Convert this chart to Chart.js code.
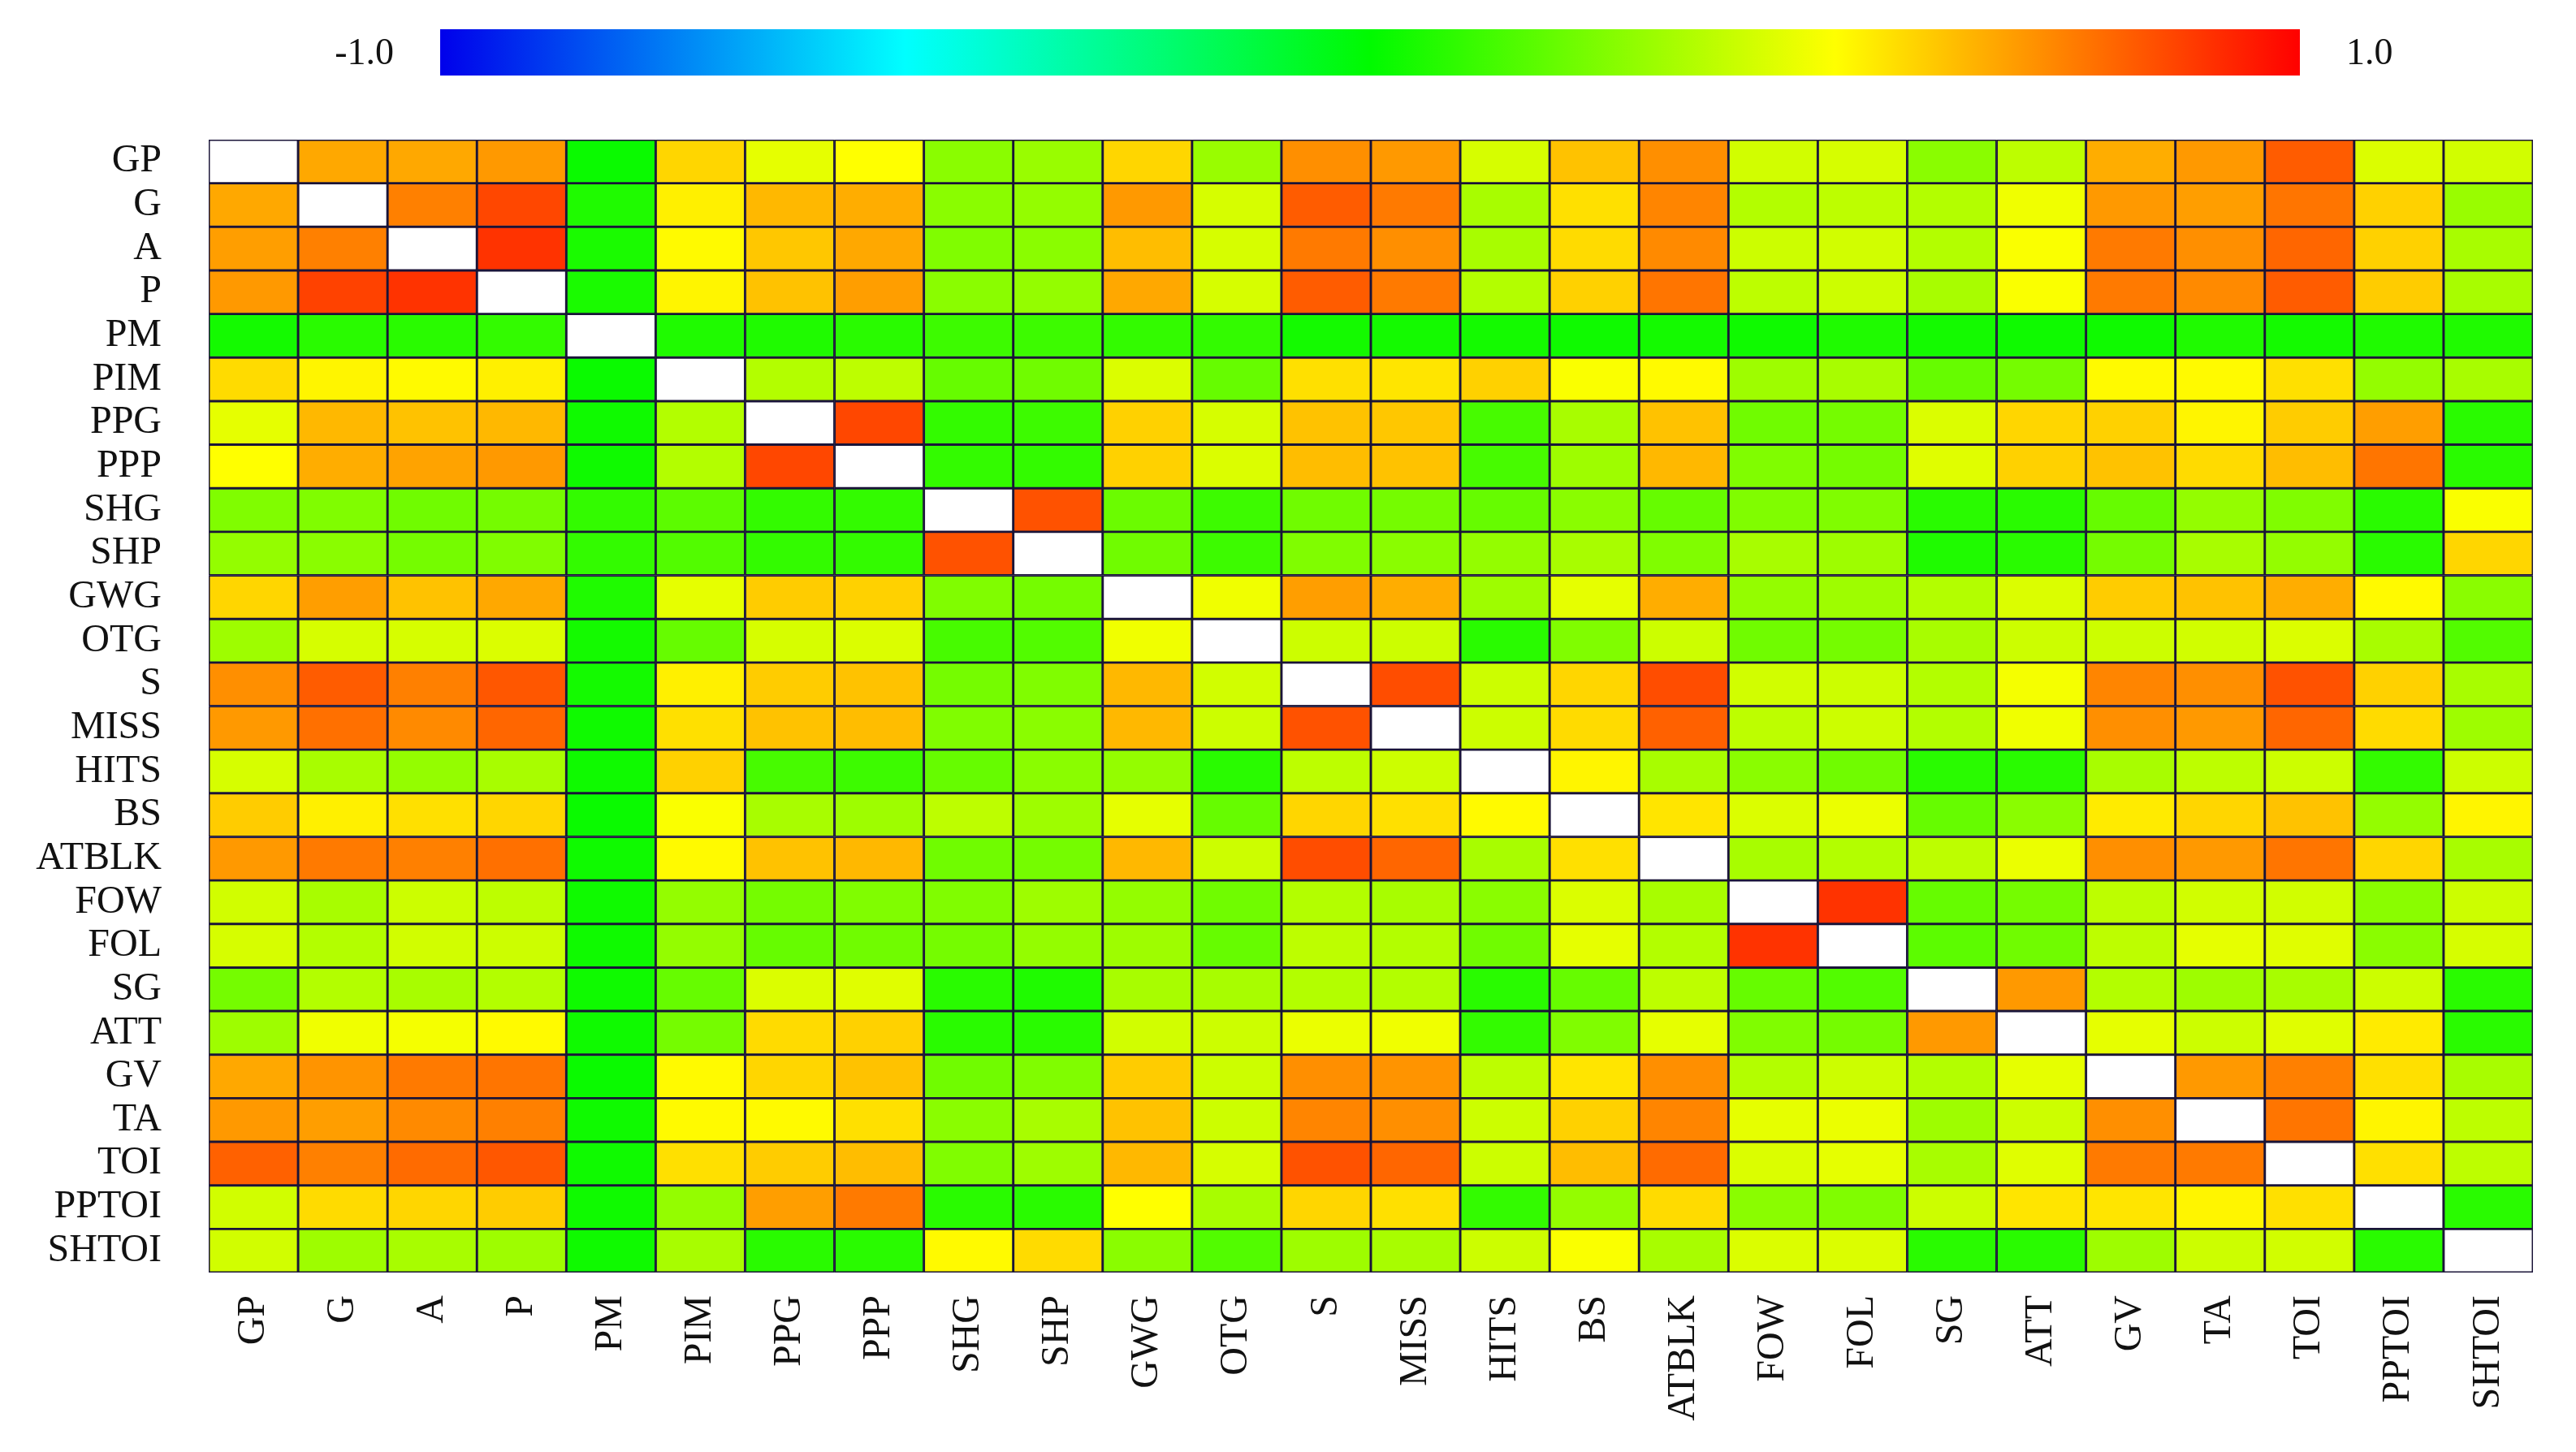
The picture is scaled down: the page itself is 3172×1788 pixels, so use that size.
<!DOCTYPE html>
<html>
<head>
<meta charset="utf-8">
<script src="https://cdn.jsdelivr.net/npm/chart.js@4.4.1/dist/chart.umd.min.js"></script>
<style>
  html, body { margin: 0; padding: 0; background: #fff; }
  #page { position: relative; width: 3172px; height: 1788px; font-family: 'Liberation Serif', 'Times New Roman', serif; }
  #mainWrap { position: absolute; left: 0; top: 0; width: 3172px; height: 1788px; }
  #barWrap { position: absolute; left: 542px; top: 36px; width: 2290px; height: 57px; }
  .cbLabel { position: absolute; top: 37px; font-size: 46px; color: #111; line-height: 54px; }
</style>
</head>
<body>
<div id="page">
  <div id="mainWrap"><canvas id="heatmap"></canvas></div>
  <div id="barWrap"><canvas id="colorbar"></canvas></div>
  <div class="cbLabel" style="right: 2687px;">-1.0</div>
  <div class="cbLabel" style="left: 2889px;">1.0</div>
</div>
<script>
const labels = ['GP', 'G', 'A', 'P', 'PM', 'PIM', 'PPG', 'PPP', 'SHG', 'SHP', 'GWG', 'OTG', 'S', 'MISS',
    'HITS', 'BS', 'ATBLK', 'FOW', 'FOL', 'SG', 'ATT', 'GV', 'TA', 'TOI', 'PPTOI', 'SHTOI'];

// correlation rows, same order as labels (null = diagonal, drawn white)
const corrRows = [
    [null,0.67,0.67,0.70,0.02,0.58,0.45,0.50,0.27,0.30,0.58,0.30,0.72,0.70,0.42,0.62,0.72,0.41,0.42,0.27,0.37,0.66,0.70,0.82,0.43,0.41],
    [0.67,null,0.75,0.86,0.06,0.53,0.64,0.66,0.27,0.29,0.70,0.42,0.82,0.76,0.33,0.56,0.74,0.35,0.37,0.35,0.47,0.70,0.69,0.77,0.59,0.30],
    [0.69,0.75,null,0.90,0.05,0.51,0.61,0.67,0.25,0.27,0.63,0.42,0.76,0.72,0.33,0.57,0.73,0.40,0.41,0.35,0.49,0.76,0.72,0.80,0.59,0.33],
    [0.70,0.87,0.90,null,0.05,0.52,0.62,0.69,0.27,0.29,0.67,0.42,0.82,0.76,0.35,0.59,0.77,0.37,0.40,0.33,0.49,0.76,0.73,0.82,0.60,0.33],
    [0.04,0.08,0.08,0.10,null,0.06,0.06,0.08,0.12,0.12,0.10,0.10,0.04,0.04,0.04,0.03,0.04,0.03,0.06,0.04,0.03,0.03,0.06,0.04,0.06,0.06],
    [0.57,0.52,0.51,0.53,0.02,null,0.35,0.37,0.20,0.22,0.43,0.20,0.56,0.55,0.59,0.49,0.51,0.31,0.33,0.20,0.23,0.51,0.51,0.56,0.29,0.33],
    [0.45,0.64,0.62,0.64,0.03,0.35,null,0.86,0.10,0.12,0.59,0.42,0.62,0.61,0.14,0.33,0.62,0.22,0.23,0.43,0.58,0.59,0.52,0.60,0.69,0.08],
    [0.50,0.66,0.68,0.70,0.03,0.35,0.86,null,0.10,0.10,0.59,0.43,0.63,0.62,0.14,0.31,0.64,0.25,0.23,0.44,0.59,0.62,0.57,0.63,0.77,0.08],
    [0.25,0.25,0.22,0.23,0.10,0.18,0.10,0.10,null,0.84,0.21,0.12,0.22,0.23,0.20,0.27,0.20,0.25,0.25,0.08,0.08,0.20,0.29,0.25,0.08,0.49],
    [0.29,0.27,0.23,0.25,0.10,0.16,0.10,0.10,0.84,null,0.22,0.12,0.25,0.27,0.29,0.33,0.25,0.33,0.31,0.06,0.08,0.23,0.33,0.29,0.08,0.58],
    [0.58,0.69,0.62,0.67,0.06,0.45,0.60,0.59,0.25,0.23,null,0.47,0.69,0.66,0.31,0.45,0.66,0.29,0.31,0.35,0.43,0.60,0.62,0.66,0.51,0.27],
    [0.31,0.42,0.42,0.43,0.04,0.20,0.42,0.43,0.14,0.16,0.47,null,0.40,0.40,0.08,0.25,0.40,0.22,0.23,0.33,0.40,0.40,0.41,0.43,0.33,0.16],
    [0.72,0.82,0.75,0.83,0.04,0.53,0.60,0.62,0.23,0.25,0.64,0.41,null,0.85,0.40,0.58,0.85,0.41,0.40,0.35,0.48,0.74,0.72,0.84,0.59,0.33],
    [0.70,0.78,0.73,0.80,0.03,0.56,0.62,0.63,0.25,0.27,0.64,0.40,0.84,null,0.40,0.57,0.81,0.37,0.40,0.35,0.47,0.72,0.70,0.80,0.57,0.31],
    [0.42,0.33,0.29,0.33,0.03,0.59,0.14,0.12,0.20,0.27,0.29,0.08,0.37,0.40,null,0.52,0.33,0.27,0.22,0.08,0.08,0.33,0.37,0.40,0.10,0.40],
    [0.60,0.53,0.56,0.58,0.02,0.49,0.33,0.31,0.37,0.31,0.45,0.20,0.58,0.56,0.51,null,0.55,0.43,0.46,0.20,0.27,0.54,0.58,0.62,0.29,0.52],
    [0.70,0.76,0.75,0.78,0.03,0.51,0.62,0.64,0.22,0.23,0.64,0.40,0.85,0.80,0.33,0.56,null,0.33,0.35,0.37,0.46,0.72,0.70,0.77,0.58,0.33],
    [0.41,0.33,0.40,0.37,0.03,0.29,0.23,0.25,0.25,0.31,0.29,0.22,0.35,0.33,0.27,0.43,0.33,null,0.90,0.20,0.23,0.37,0.41,0.41,0.27,0.40],
    [0.42,0.35,0.41,0.40,0.03,0.29,0.20,0.22,0.23,0.29,0.31,0.20,0.37,0.35,0.22,0.45,0.35,0.90,null,0.18,0.22,0.37,0.45,0.44,0.27,0.42],
    [0.23,0.35,0.33,0.35,0.03,0.20,0.43,0.44,0.08,0.06,0.33,0.33,0.35,0.35,0.08,0.20,0.37,0.20,0.16,null,0.70,0.35,0.31,0.33,0.40,0.08],
    [0.31,0.47,0.48,0.51,0.03,0.23,0.57,0.59,0.08,0.08,0.41,0.40,0.46,0.47,0.10,0.25,0.45,0.25,0.23,0.70,null,0.45,0.40,0.44,0.54,0.08],
    [0.67,0.71,0.76,0.77,0.02,0.51,0.58,0.62,0.22,0.25,0.60,0.40,0.72,0.71,0.37,0.55,0.72,0.35,0.40,0.35,0.45,null,0.70,0.75,0.56,0.33],
    [0.70,0.69,0.73,0.75,0.03,0.51,0.51,0.56,0.27,0.33,0.62,0.40,0.74,0.72,0.40,0.59,0.74,0.45,0.46,0.31,0.40,0.72,null,0.77,0.52,0.37],
    [0.81,0.75,0.79,0.83,0.03,0.56,0.60,0.63,0.25,0.31,0.64,0.42,0.84,0.80,0.40,0.63,0.79,0.43,0.45,0.33,0.44,0.76,0.76,null,0.56,0.37],
    [0.41,0.57,0.58,0.60,0.03,0.29,0.69,0.76,0.08,0.08,0.50,0.33,0.58,0.56,0.10,0.29,0.57,0.27,0.25,0.40,0.55,0.55,0.52,0.56,null,0.08],
    [0.41,0.31,0.33,0.31,0.03,0.33,0.08,0.08,0.51,0.57,0.27,0.16,0.31,0.33,0.40,0.49,0.33,0.43,0.43,0.08,0.08,0.31,0.40,0.41,0.08,null]
];

// colour scale: -1 blue .. 0 green .. 1 red
const scaleStops = [-1, -0.5, 0, 0.5, 1];
const scaleColors = [[0, 0, 235], [0, 255, 255], [0, 250, 0], [255, 255, 0], [255, 0, 0]];

function colorOf(v) {
    if (v === null) return '#ffffff';
    v = Math.max(-1, Math.min(1, v));
    let i = 0;
    while (i < scaleStops.length - 2 && v > scaleStops[i + 1]) i++;
    const t = (v - scaleStops[i]) / (scaleStops[i + 1] - scaleStops[i]);
    const a = scaleColors[i], b = scaleColors[i + 1];
    const c = a.map((x, k) => Math.round(x + (b[k] - x) * t));
    return `rgb(${c[0]},${c[1]},${c[2]})`;
}

const font = { family: "'Liberation Serif', 'Times New Roman', serif", size: 48 };

function initHeatmap() {
    const datasets = corrRows.map((row, r) => ({
        data: labels.map(() => [r - 0.5, r + 0.5]),
        backgroundColor: row.map(colorOf),
        borderColor: '#1a1438',
        borderWidth: 1.8,
        borderSkipped: false,
        grouped: false,
        barPercentage: 1,
        categoryPercentage: 1
    }));

    new Chart(document.getElementById('heatmap'), {
        type: 'bar',
        data: { labels: labels, datasets: datasets },
        options: {
            responsive: true,
            maintainAspectRatio: false,
            animation: false,
            layout: { padding: { top: 172, right: 53, left: 0, bottom: 0 } },
            plugins: { legend: { display: false }, tooltip: { enabled: false } },
            scales: {
                x: {
                    grid: { display: false, drawTicks: false },
                    border: { display: false },
                    ticks: { font: font, color: '#111', minRotation: 90, maxRotation: 90, autoSkip: false, padding: 28 },
                    afterFit: s => { s.height = 221; }
                },
                y: {
                    type: 'linear',
                    min: -0.5,
                    max: 25.5,
                    reverse: true,
                    grid: { display: false, drawTicks: false },
                    border: { display: false },
                    afterBuildTicks: s => { s.ticks = labels.map((_, i) => ({ value: i })); },
                    ticks: { font: font, color: '#111', padding: 58, autoSkip: false, callback: v => labels[v] },
                    afterFit: s => { s.width = 257; }
                }
            }
        }
    });
}

function initColorbar() {
    new Chart(document.getElementById('colorbar'), {
        type: 'bar',
        data: {
            labels: [''],
            datasets: [{
                data: [[-1, 1]],
                barPercentage: 1,
                categoryPercentage: 1,
                backgroundColor: ctx => {
                    const area = ctx.chart.chartArea;
                    if (!area) return '#00ff00';
                    const g = ctx.chart.ctx.createLinearGradient(area.left, 0, area.right, 0);
                    scaleStops.forEach(s => g.addColorStop((s + 1) / 2, colorOf(s)));
                    return g;
                }
            }]
        },
        options: {
            indexAxis: 'y',
            responsive: true,
            maintainAspectRatio: false,
            animation: false,
            layout: { padding: 0 },
            plugins: { legend: { display: false }, tooltip: { enabled: false } },
            scales: {
                x: { type: 'linear', min: -1, max: 1, display: false },
                y: { display: false }
            }
        }
    });
}

document.addEventListener('DOMContentLoaded', () => {
    initHeatmap();
    initColorbar();
});
</script>
</body>
</html>
